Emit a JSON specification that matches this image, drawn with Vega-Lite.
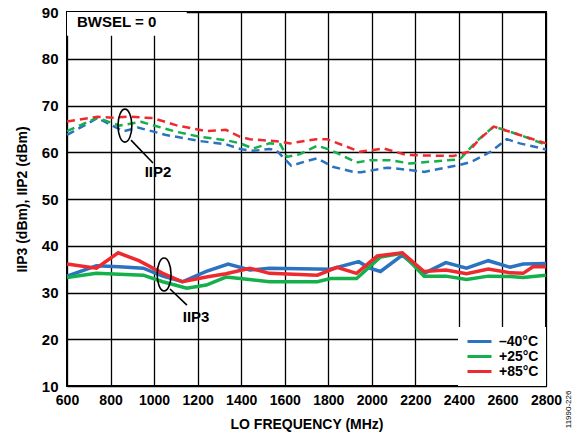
{
  "$schema": "https://vega.github.io/schema/vega-lite/v6.json",
  "width": 479,
  "height": 374,
  "autosize": "none",
  "padding": {"left": 67, "top": 12, "right": 35, "bottom": 53},
  "background": "white",
  "config": {
    "font": "Liberation Sans",
    "view": {"stroke": "black", "strokeWidth": 2},
    "axis": {
      "domain": false,
      "ticks": false,
      "grid": true,
      "gridColor": "black",
      "gridWidth": 1.3,
      "gridOpacity": 1,
      "labelFont": "Liberation Sans",
      "labelFontWeight": "bold",
      "labelFontSize": 15,
      "labelColor": "black",
      "labelOverlap": false,
      "labelFlush": false,
      "titleFont": "Liberation Sans",
      "titleFontWeight": "bold",
      "titleFontSize": 14,
      "titleColor": "black"
    }
  },
  "datasets": {
    "lines": [
      {"s": "IIP2", "t": "–40°C", "f": 600, "v": 63.7},
      {"s": "IIP2", "t": "–40°C", "f": 740, "v": 67.3},
      {"s": "IIP2", "t": "–40°C", "f": 860, "v": 64.5},
      {"s": "IIP2", "t": "–40°C", "f": 925, "v": 65.3},
      {"s": "IIP2", "t": "–40°C", "f": 1055, "v": 63.7},
      {"s": "IIP2", "t": "–40°C", "f": 1210, "v": 62.4},
      {"s": "IIP2", "t": "–40°C", "f": 1330, "v": 61.7},
      {"s": "IIP2", "t": "–40°C", "f": 1395, "v": 60.7},
      {"s": "IIP2", "t": "–40°C", "f": 1455, "v": 60.3},
      {"s": "IIP2", "t": "–40°C", "f": 1530, "v": 60.7},
      {"s": "IIP2", "t": "–40°C", "f": 1560, "v": 60.5},
      {"s": "IIP2", "t": "–40°C", "f": 1630, "v": 57.1},
      {"s": "IIP2", "t": "–40°C", "f": 1700, "v": 58.1},
      {"s": "IIP2", "t": "–40°C", "f": 1750, "v": 58.7},
      {"s": "IIP2", "t": "–40°C", "f": 1820, "v": 56.9},
      {"s": "IIP2", "t": "–40°C", "f": 1915, "v": 55.8},
      {"s": "IIP2", "t": "–40°C", "f": 1950, "v": 55.7},
      {"s": "IIP2", "t": "–40°C", "f": 2070, "v": 56.7},
      {"s": "IIP2", "t": "–40°C", "f": 2175, "v": 56.2},
      {"s": "IIP2", "t": "–40°C", "f": 2240, "v": 55.8},
      {"s": "IIP2", "t": "–40°C", "f": 2405, "v": 57.3},
      {"s": "IIP2", "t": "–40°C", "f": 2460, "v": 58.0},
      {"s": "IIP2", "t": "–40°C", "f": 2545, "v": 60.1},
      {"s": "IIP2", "t": "–40°C", "f": 2620, "v": 62.8},
      {"s": "IIP2", "t": "–40°C", "f": 2680, "v": 61.9},
      {"s": "IIP2", "t": "–40°C", "f": 2800, "v": 60.6},
      {"s": "IIP2", "t": "+25°C", "f": 600, "v": 64.5},
      {"s": "IIP2", "t": "+25°C", "f": 740, "v": 67.4},
      {"s": "IIP2", "t": "+25°C", "f": 840, "v": 65.7},
      {"s": "IIP2", "t": "+25°C", "f": 940, "v": 66.5},
      {"s": "IIP2", "t": "+25°C", "f": 1100, "v": 64.4},
      {"s": "IIP2", "t": "+25°C", "f": 1210, "v": 63.3},
      {"s": "IIP2", "t": "+25°C", "f": 1330, "v": 62.6},
      {"s": "IIP2", "t": "+25°C", "f": 1395, "v": 61.9},
      {"s": "IIP2", "t": "+25°C", "f": 1455, "v": 60.8},
      {"s": "IIP2", "t": "+25°C", "f": 1530, "v": 61.9},
      {"s": "IIP2", "t": "+25°C", "f": 1580, "v": 61.7},
      {"s": "IIP2", "t": "+25°C", "f": 1610, "v": 59.0},
      {"s": "IIP2", "t": "+25°C", "f": 1670, "v": 59.6},
      {"s": "IIP2", "t": "+25°C", "f": 1750, "v": 61.4},
      {"s": "IIP2", "t": "+25°C", "f": 1810, "v": 60.5},
      {"s": "IIP2", "t": "+25°C", "f": 1930, "v": 57.8},
      {"s": "IIP2", "t": "+25°C", "f": 1990, "v": 58.3},
      {"s": "IIP2", "t": "+25°C", "f": 2085, "v": 58.3},
      {"s": "IIP2", "t": "+25°C", "f": 2175, "v": 57.6},
      {"s": "IIP2", "t": "+25°C", "f": 2405, "v": 58.5},
      {"s": "IIP2", "t": "+25°C", "f": 2480, "v": 62.3},
      {"s": "IIP2", "t": "+25°C", "f": 2560, "v": 65.5},
      {"s": "IIP2", "t": "+25°C", "f": 2680, "v": 63.7},
      {"s": "IIP2", "t": "+25°C", "f": 2800, "v": 61.6},
      {"s": "IIP2", "t": "+85°C", "f": 600, "v": 66.6},
      {"s": "IIP2", "t": "+85°C", "f": 740, "v": 67.6},
      {"s": "IIP2", "t": "+85°C", "f": 810, "v": 67.4},
      {"s": "IIP2", "t": "+85°C", "f": 885, "v": 67.6},
      {"s": "IIP2", "t": "+85°C", "f": 995, "v": 67.3},
      {"s": "IIP2", "t": "+85°C", "f": 1100, "v": 65.8},
      {"s": "IIP2", "t": "+85°C", "f": 1240, "v": 64.5},
      {"s": "IIP2", "t": "+85°C", "f": 1330, "v": 64.8},
      {"s": "IIP2", "t": "+85°C", "f": 1395, "v": 63.3},
      {"s": "IIP2", "t": "+85°C", "f": 1440, "v": 62.8},
      {"s": "IIP2", "t": "+85°C", "f": 1580, "v": 62.3},
      {"s": "IIP2", "t": "+85°C", "f": 1625, "v": 61.9},
      {"s": "IIP2", "t": "+85°C", "f": 1745, "v": 62.8},
      {"s": "IIP2", "t": "+85°C", "f": 1795, "v": 62.8},
      {"s": "IIP2", "t": "+85°C", "f": 1945, "v": 60.1},
      {"s": "IIP2", "t": "+85°C", "f": 2055, "v": 60.8},
      {"s": "IIP2", "t": "+85°C", "f": 2160, "v": 59.4},
      {"s": "IIP2", "t": "+85°C", "f": 2375, "v": 59.2},
      {"s": "IIP2", "t": "+85°C", "f": 2445, "v": 60.1},
      {"s": "IIP2", "t": "+85°C", "f": 2490, "v": 62.6},
      {"s": "IIP2", "t": "+85°C", "f": 2560, "v": 65.5},
      {"s": "IIP2", "t": "+85°C", "f": 2680, "v": 63.7},
      {"s": "IIP2", "t": "+85°C", "f": 2800, "v": 61.9},
      {"s": "IIP3", "t": "–40°C", "f": 600, "v": 33.5},
      {"s": "IIP3", "t": "–40°C", "f": 735, "v": 35.7},
      {"s": "IIP3", "t": "–40°C", "f": 840, "v": 35.5},
      {"s": "IIP3", "t": "–40°C", "f": 950, "v": 35.2},
      {"s": "IIP3", "t": "–40°C", "f": 1040, "v": 33.5},
      {"s": "IIP3", "t": "–40°C", "f": 1130, "v": 32.3},
      {"s": "IIP3", "t": "–40°C", "f": 1240, "v": 34.5},
      {"s": "IIP3", "t": "–40°C", "f": 1340, "v": 36.1},
      {"s": "IIP3", "t": "–40°C", "f": 1440, "v": 34.8},
      {"s": "IIP3", "t": "–40°C", "f": 1530, "v": 35.2},
      {"s": "IIP3", "t": "–40°C", "f": 1810, "v": 35.0},
      {"s": "IIP3", "t": "–40°C", "f": 1940, "v": 36.6},
      {"s": "IIP3", "t": "–40°C", "f": 1990, "v": 35.2},
      {"s": "IIP3", "t": "–40°C", "f": 2040, "v": 34.5},
      {"s": "IIP3", "t": "–40°C", "f": 2140, "v": 38.0},
      {"s": "IIP3", "t": "–40°C", "f": 2240, "v": 34.1},
      {"s": "IIP3", "t": "–40°C", "f": 2340, "v": 36.4},
      {"s": "IIP3", "t": "–40°C", "f": 2435, "v": 35.2},
      {"s": "IIP3", "t": "–40°C", "f": 2535, "v": 36.8},
      {"s": "IIP3", "t": "–40°C", "f": 2635, "v": 35.4},
      {"s": "IIP3", "t": "–40°C", "f": 2695, "v": 36.1},
      {"s": "IIP3", "t": "–40°C", "f": 2800, "v": 36.2},
      {"s": "IIP3", "t": "+25°C", "f": 600, "v": 33.2},
      {"s": "IIP3", "t": "+25°C", "f": 735, "v": 34.1},
      {"s": "IIP3", "t": "+25°C", "f": 950, "v": 33.7},
      {"s": "IIP3", "t": "+25°C", "f": 1040, "v": 32.3},
      {"s": "IIP3", "t": "+25°C", "f": 1150, "v": 30.9},
      {"s": "IIP3", "t": "+25°C", "f": 1240, "v": 31.6},
      {"s": "IIP3", "t": "+25°C", "f": 1330, "v": 33.3},
      {"s": "IIP3", "t": "+25°C", "f": 1395, "v": 33.0},
      {"s": "IIP3", "t": "+25°C", "f": 1530, "v": 32.3},
      {"s": "IIP3", "t": "+25°C", "f": 1750, "v": 32.3},
      {"s": "IIP3", "t": "+25°C", "f": 1810, "v": 33.0},
      {"s": "IIP3", "t": "+25°C", "f": 1930, "v": 33.0},
      {"s": "IIP3", "t": "+25°C", "f": 2040, "v": 37.6},
      {"s": "IIP3", "t": "+25°C", "f": 2140, "v": 38.4},
      {"s": "IIP3", "t": "+25°C", "f": 2240, "v": 33.5},
      {"s": "IIP3", "t": "+25°C", "f": 2340, "v": 33.5},
      {"s": "IIP3", "t": "+25°C", "f": 2435, "v": 32.8},
      {"s": "IIP3", "t": "+25°C", "f": 2535, "v": 33.5},
      {"s": "IIP3", "t": "+25°C", "f": 2635, "v": 33.4},
      {"s": "IIP3", "t": "+25°C", "f": 2695, "v": 33.2},
      {"s": "IIP3", "t": "+25°C", "f": 2800, "v": 33.7},
      {"s": "IIP3", "t": "+85°C", "f": 600, "v": 36.1},
      {"s": "IIP3", "t": "+85°C", "f": 735, "v": 35.2},
      {"s": "IIP3", "t": "+85°C", "f": 835, "v": 38.5},
      {"s": "IIP3", "t": "+85°C", "f": 930, "v": 36.8},
      {"s": "IIP3", "t": "+85°C", "f": 1040, "v": 34.1},
      {"s": "IIP3", "t": "+85°C", "f": 1130, "v": 32.3},
      {"s": "IIP3", "t": "+85°C", "f": 1240, "v": 33.3},
      {"s": "IIP3", "t": "+85°C", "f": 1330, "v": 34.0},
      {"s": "IIP3", "t": "+85°C", "f": 1440, "v": 35.2},
      {"s": "IIP3", "t": "+85°C", "f": 1530, "v": 34.1},
      {"s": "IIP3", "t": "+85°C", "f": 1750, "v": 33.7},
      {"s": "IIP3", "t": "+85°C", "f": 1840, "v": 35.4},
      {"s": "IIP3", "t": "+85°C", "f": 1930, "v": 34.1},
      {"s": "IIP3", "t": "+85°C", "f": 2025, "v": 37.8},
      {"s": "IIP3", "t": "+85°C", "f": 2140, "v": 38.5},
      {"s": "IIP3", "t": "+85°C", "f": 2240, "v": 34.5},
      {"s": "IIP3", "t": "+85°C", "f": 2340, "v": 34.8},
      {"s": "IIP3", "t": "+85°C", "f": 2435, "v": 34.0},
      {"s": "IIP3", "t": "+85°C", "f": 2535, "v": 35.0},
      {"s": "IIP3", "t": "+85°C", "f": 2635, "v": 34.2},
      {"s": "IIP3", "t": "+85°C", "f": 2695, "v": 34.1},
      {"s": "IIP3", "t": "+85°C", "f": 2740, "v": 35.5},
      {"s": "IIP3", "t": "+85°C", "f": 2800, "v": 35.5}
    ],
    "ellipses": [
      {"f": 866, "v": 65.7},
      {"f": 1046, "v": 33.85}
    ],
    "leaders": [
      {"f": 894, "v": 62.6, "f2": 995, "v2": 57.7},
      {"f": 1073, "v": 30.75, "f2": 1151, "v2": 27.3}
    ],
    "labels": [
      {"f": 1018, "v": 55.8, "label": "IIP2"},
      {"f": 1193, "v": 24.8, "label": "IIP3"}
    ],
    "box": [
      {"f": 600, "f2": 1150, "v": 84.9, "v2": 90}
    ],
    "bw": [
      {"f": 646, "v": 87.9, "label": "BWSEL = 0"}
    ],
    "code": [
      {"f": 2905, "v": 5, "label": "11990-226"}
    ]
  },
  "layer": [
    {
      "data": {"name": "box"},
      "mark": {"type": "rect", "fill": "white", "stroke": null},
      "encoding": {
        "x": {"field": "f", "type": "quantitative", "scale": {"domain": [600, 2800], "nice": false, "zero": false}, "axis": {"values": [600, 800, 1000, 1200, 1400, 1600, 1800, 2000, 2200, 2400, 2600, 2800], "format": "d", "title": "LO FREQUENCY (MHz)", "labelPadding": 7, "titlePadding": 10, "labelFontSize": 14}},
        "x2": {"field": "f2"},
        "y": {"field": "v", "type": "quantitative", "scale": {"domain": [10, 90], "nice": false, "zero": false}, "axis": {"values": [10, 20, 30, 40, 50, 60, 70, 80, 90], "title": "IIP3 (dBm), IIP2 (dBm)", "labelPadding": 9, "titlePadding": 12}},
        "y2": {"field": "v2"}
      }
    },
    {
      "data": {"name": "lines"},
      "transform": [{"filter": "datum.s === 'IIP3'"}],
      "mark": {"type": "line", "strokeWidth": 3.5},
      "encoding": {
        "x": {"field": "f", "type": "quantitative"},
        "y": {"field": "v", "type": "quantitative"},
        "color": {
          "field": "t", "type": "nominal",
          "scale": {"domain": ["–40°C", "+25°C", "+85°C"], "range": ["#2b73c0", "#13b04b", "#ee2a2f"]},
          "legend": {
            "title": null, "orient": "bottom-right", "offset": 0,
            "fillColor": "white", "padding": 7,
            "symbolType": "M-2,0H2", "symbolSize": 144, "symbolStrokeWidth": 3,
            "symbolOffset": 7,
            "labelFontSize": 14, "labelFontWeight": "bold", "labelColor": "black",
            "labelFont": "Liberation Sans", "rowPadding": 0, "labelOffset": 12,
            "labelLimit": 200
          }
        }
      }
    },
    {
      "data": {"name": "lines"},
      "transform": [{"filter": "datum.s === 'IIP2'"}],
      "mark": {"type": "line", "strokeWidth": 2.5, "strokeDash": [8, 5]},
      "encoding": {
        "x": {"field": "f", "type": "quantitative"},
        "y": {"field": "v", "type": "quantitative"},
        "color": {"field": "t", "type": "nominal"}
      }
    },
    {
      "data": {"name": "ellipses"},
      "mark": {"type": "point", "shape": "M0,-1A0.42,1 0 1,1 0,1A0.42,1 0 1,1 0,-1Z", "size": 1089, "filled": false, "stroke": "black", "strokeWidth": 1.6, "opacity": 1},
      "encoding": {
        "x": {"field": "f", "type": "quantitative"},
        "y": {"field": "v", "type": "quantitative"}
      }
    },
    {
      "data": {"name": "leaders"},
      "mark": {"type": "rule", "stroke": "black", "strokeWidth": 1.6},
      "encoding": {
        "x": {"field": "f", "type": "quantitative"},
        "y": {"field": "v", "type": "quantitative"},
        "x2": {"field": "f2"},
        "y2": {"field": "v2"}
      }
    },
    {
      "data": {"name": "labels"},
      "mark": {"type": "text", "font": "Liberation Sans", "fontWeight": "bold", "fontSize": 15, "align": "center", "baseline": "middle", "color": "black"},
      "encoding": {
        "x": {"field": "f", "type": "quantitative"},
        "y": {"field": "v", "type": "quantitative"},
        "text": {"field": "label"}
      }
    },
    {
      "data": {"name": "bw"},
      "mark": {"type": "text", "font": "Liberation Sans", "fontWeight": "bold", "fontSize": 15, "align": "left", "baseline": "middle", "color": "black"},
      "encoding": {
        "x": {"field": "f", "type": "quantitative"},
        "y": {"field": "v", "type": "quantitative"},
        "text": {"field": "label"}
      }
    },
    {
      "data": {"name": "code"},
      "mark": {"type": "text", "font": "Liberation Sans", "fontSize": 8, "align": "center", "baseline": "middle", "angle": 270, "color": "black"},
      "encoding": {
        "x": {"field": "f", "type": "quantitative"},
        "y": {"field": "v", "type": "quantitative"},
        "text": {"field": "label"}
      }
    }
  ]
}
